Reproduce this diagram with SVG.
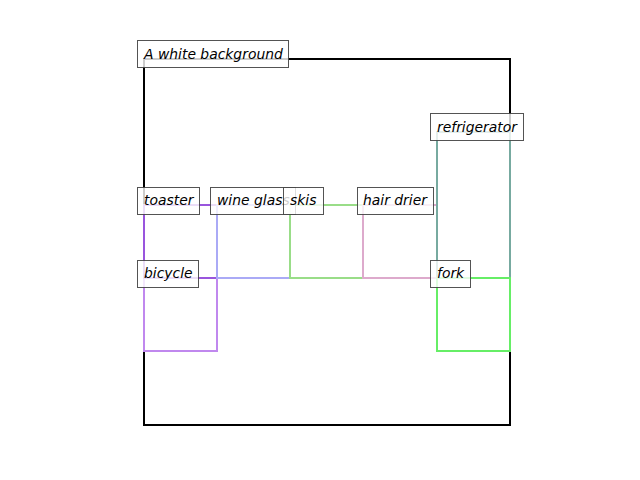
<svg xmlns="http://www.w3.org/2000/svg" width="640" height="480" viewBox="0 0 640 480">
  <style>
    .r { fill: none; stroke-width: 2; stroke-linecap: square; }
    .box { fill: #ffffff; fill-opacity: 0.8; stroke: #404040; stroke-opacity: 0.9; stroke-width: 1; }
    .lbl { font-family: "DejaVu Sans", sans-serif; font-style: italic; font-size: 13.9px; fill: #000000; }
  </style>
  <rect width="640" height="480" fill="#ffffff"/>
  <g id="connectors">
    <rect class="r" x="144" y="59" width="366" height="366" stroke="#000000"/>
    <rect class="r" x="144" y="278" width="73" height="73" stroke="#c088ee"/>
    <rect class="r" x="144" y="205" width="73" height="73" stroke="#9955dd"/>
    <rect class="r" x="217" y="205" width="73" height="73" stroke="#aaaaf6"/>
    <rect class="r" x="290" y="205" width="73" height="73" stroke="#99dd88"/>
    <rect class="r" x="363" y="205" width="74" height="73" stroke="#ddaacc"/>
    <rect class="r" x="437" y="132" width="73" height="146" stroke="#77aaa0"/>
    <rect class="r" x="437" y="278" width="73" height="73" stroke="#66ee66"/>
  </g>
  <g id="background">
    <rect class="box" x="137.5" y="40.5" width="151" height="27"/>
    <text class="lbl" x="144" y="59">A white background</text>
  </g>
  <g id="refrigerator">
    <rect class="box" x="430.5" y="113.5" width="93" height="27"/>
    <text class="lbl" x="437" y="132">refrigerator</text>
  </g>
  <g id="toaster">
    <rect class="box" x="137.5" y="187.5" width="62" height="27"/>
    <text class="lbl" x="144" y="205">toaster</text>
  </g>
  <g id="wine-glass">
    <rect class="box" x="210.5" y="187.5" width="85" height="27"/>
    <text class="lbl" x="217" y="205">wine glass</text>
  </g>
  <g id="skis">
    <rect class="box" x="283.5" y="187.5" width="40" height="27"/>
    <text class="lbl" x="290" y="205">skis</text>
  </g>
  <g id="hair-drier">
    <rect class="box" x="357.5" y="187.5" width="76" height="27"/>
    <text class="lbl" x="363" y="205">hair drier</text>
  </g>
  <g id="bicycle">
    <rect class="box" x="137.5" y="260.5" width="61" height="27"/>
    <text class="lbl" x="144" y="278">bicycle</text>
  </g>
  <g id="fork">
    <rect class="box" x="430.5" y="260.5" width="40" height="27"/>
    <text class="lbl" x="437" y="278">fork</text>
  </g>
</svg>
